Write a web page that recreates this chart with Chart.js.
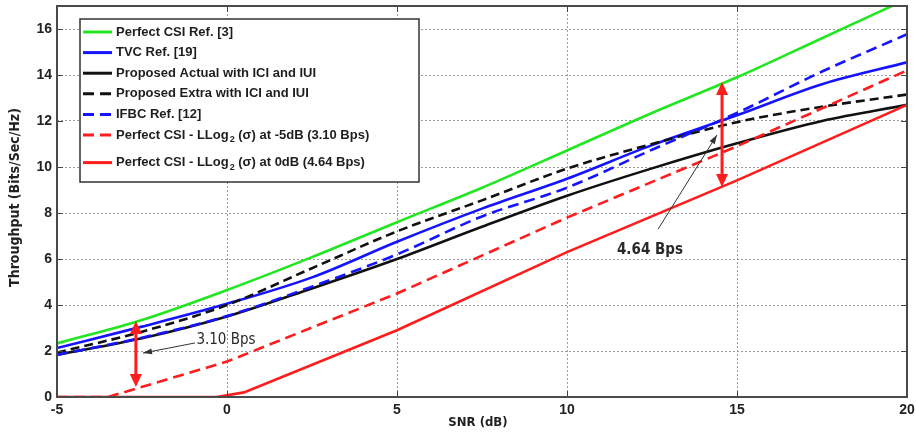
<!DOCTYPE html>
<html lang="en">
<head>
    <meta charset="UTF-8">
    <title>Throughput vs SNR</title>
    <script src="https://cdn.jsdelivr.net/npm/chart.js@4"></script>
    <style>
        body { margin: 0; background: #fff; }
        #wrap { width: 916px; height: 444px; position: relative; }
    </style>
</head>
<body>
    <div id="wrap"><canvas id="chart" width="916" height="444"></canvas></div>

    <script>
        // SNR grid (dB) shared by most curves
        const snr = [-5, -2.5, 0, 2.5, 5, 7.5, 10, 12.5, 15, 17.5, 20];

        // Throughput (Bits/Sec/Hz)
        const perfectCsi     = [2.33, 3.35, 4.65, 6.08, 7.6, 9.1, 10.72, 12.35, 13.9, 15.6, 17.3];
        const tvc            = [2.13, 3.06, 4.05, 5.2, 6.75, 8.19, 9.49, 10.95, 12.25, 13.6, 14.55];
        const proposedActual = [1.83, 2.55, 3.5, 4.72, 6.0, 7.4, 8.75, 9.94, 11.03, 12.0, 12.7];
        const proposedExtra  = [1.93, 2.84, 4.0, 5.6, 7.2, 8.55, 9.93, 11.0, 11.95, 12.62, 13.15];
        const ifbc           = [1.83, 2.58, 3.52, 4.8, 6.2, 7.85, 9.1, 10.75, 12.35, 14.15, 15.77];

        // the two "Perfect CSI - LLog2" curves have their own knees
        const lossM5Snr = [-5, -3.5, 0, 5, 10, 15, 20];
        const lossM5    = [0, 0, 1.54, 4.5, 7.8, 10.9, 14.2];
        const loss0Snr  = [-5, -0.3, 0.5, 5, 10, 15, 20];
        const loss0     = [0, 0, 0.2, 2.9, 6.3, 9.42, 12.7];

        const xTicks = { min: -5, max: 20, step: 5 };
        const yTicks = { min: 0, max: 17, step: 2 };

        // gap markers (data units) and the labels pointing at them
        const gapArrows = [
            { x: -2.68, from: 3.3, to: 0.43 },
            { x: 14.56, from: 13.7, to: 9.13 }
        ];
        const gapNotes = [
            { text: '3.10 Bps', x: -0.03, y: 2.48, tail: [-0.94, 2.35], tip: [-2.47, 1.91], bold: false },
            { text: '4.64 Bps', x: 12.44, y: 6.39, tail: [12.68, 7.3], tip: [14.41, 11.39], bold: true }
        ];

        const GREEN = '#22e622';
        const BLUE = '#1414ff';
        const BLACK = '#111111';
        const RED = '#ff1c1c';

        const pts = (xs, ys) => xs.map((v, i) => ({ x: v, y: ys[i] }));

        const series = [
            { label: 'Perfect CSI Ref. [3]', data: pts(snr, perfectCsi), color: GREEN, dash: [], smooth: true },
            { label: 'TVC Ref. [19]', data: pts(snr, tvc), color: BLUE, dash: [], smooth: true },
            { label: 'Proposed Actual with ICI and IUI', data: pts(snr, proposedActual), color: BLACK, dash: [], smooth: true },
            { label: 'Proposed Extra with ICI and IUI', data: pts(snr, proposedExtra), color: BLACK, dash: [9, 5], smooth: true },
            { label: 'IFBC Ref. [12]', data: pts(snr, ifbc), color: BLUE, dash: [11, 6], smooth: true },
            { label: 'Perfect CSI - LLog₂ (σ) at -5dB (3.10 Bps)', data: pts(lossM5Snr, lossM5), color: RED, dash: [11, 6], smooth: false },
            { label: 'Perfect CSI - LLog₂ (σ) at 0dB (4.64 Bps)', data: pts(loss0Snr, loss0), color: RED, dash: [], smooth: false }
        ];

        const narrow = '"Liberation Sans Narrow", "DejaVu Sans Condensed", "Liberation Sans", sans-serif';
        const sans = '"Liberation Sans", Arial, sans-serif';

        function arrowHead(ctx, x0, y0, x1, y1, len, half) {
            const ang = Math.atan2(y1 - y0, x1 - x0);
            ctx.beginPath();
            ctx.moveTo(x1, y1);
            ctx.lineTo(x1 - len * Math.cos(ang) + half * Math.sin(ang), y1 - len * Math.sin(ang) - half * Math.cos(ang));
            ctx.lineTo(x1 - len * Math.cos(ang) - half * Math.sin(ang), y1 - len * Math.sin(ang) + half * Math.cos(ang));
            ctx.closePath();
            ctx.fill();
        }

        // frame, inward ticks, annotations, legend and axis titles
        const overlay = {
            id: 'overlay',
            afterDraw(chart) {
                const { ctx, chartArea: a, scales: { x, y } } = chart;
                ctx.save();

                // MATLAB style inward ticks
                ctx.strokeStyle = '#444';
                ctx.lineWidth = 1;
                ctx.setLineDash([]);
                ctx.beginPath();
                x.ticks.forEach(t => {
                    const px = Math.round(x.getPixelForValue(t.value)) + 0.5;
                    ctx.moveTo(px, a.bottom); ctx.lineTo(px, a.bottom - 6);
                    ctx.moveTo(px, a.top); ctx.lineTo(px, a.top + 6);
                });
                y.ticks.forEach(t => {
                    const py = Math.round(y.getPixelForValue(t.value)) + 0.5;
                    ctx.moveTo(a.left, py); ctx.lineTo(a.left + 6, py);
                    ctx.moveTo(a.right, py); ctx.lineTo(a.right - 6, py);
                });
                ctx.stroke();

                // frame
                ctx.lineWidth = 2;
                ctx.strokeStyle = '#4a4a4a';
                ctx.strokeRect(a.left, a.top, a.right - a.left, a.bottom - a.top);

                // red double arrows
                ctx.strokeStyle = RED;
                ctx.fillStyle = RED;
                ctx.lineWidth = 3;
                gapArrows.forEach(g => {
                    const px = x.getPixelForValue(g.x);
                    const top = y.getPixelForValue(g.from);
                    const bot = y.getPixelForValue(g.to);
                    ctx.beginPath();
                    ctx.moveTo(px, top + 10);
                    ctx.lineTo(px, bot - 10);
                    ctx.stroke();
                    arrowHead(ctx, px, bot, px, top, 13, 6);
                    arrowHead(ctx, px, top, px, bot, 13, 6);
                });

                // Bps notes with thin pointers
                gapNotes.forEach(n => {
                    const tx = x.getPixelForValue(n.tail[0]), ty = y.getPixelForValue(n.tail[1]);
                    const hx = x.getPixelForValue(n.tip[0]), hy = y.getPixelForValue(n.tip[1]);
                    ctx.strokeStyle = '#333';
                    ctx.fillStyle = '#333';
                    ctx.lineWidth = 1;
                    ctx.beginPath();
                    ctx.moveTo(tx, ty);
                    ctx.lineTo(hx, hy);
                    ctx.stroke();
                    arrowHead(ctx, tx, ty, hx, hy, 9, 3);
                    ctx.font = (n.bold ? 'bold ' : '') + '15px ' + narrow;
                    ctx.textAlign = 'center';
                    ctx.textBaseline = 'middle';
                    ctx.fillStyle = '#2a2a2a';
                    ctx.fillText(n.text, x.getPixelForValue(n.x), y.getPixelForValue(n.y));
                });

                // legend box
                const bx = a.left + 23, by = a.top + 13, bw = 339, bh = 163;
                ctx.fillStyle = '#fff';
                ctx.fillRect(bx, by, bw, bh);
                ctx.strokeStyle = '#333';
                ctx.lineWidth = 1.5;
                ctx.strokeRect(bx, by, bw, bh);

                ctx.textAlign = 'left';
                ctx.textBaseline = 'middle';
                series.forEach((s, i) => {
                    const ry = by + 13 + i * 20.6 + (i === 6 ? 7 : 0);
                    ctx.strokeStyle = s.color;
                    ctx.lineWidth = 3;
                    ctx.setLineDash(s.dash.length ? [11, 6] : []);
                    ctx.beginPath();
                    ctx.moveTo(bx + 3, ry);
                    ctx.lineTo(bx + 32, ry);
                    ctx.stroke();
                    ctx.setLineDash([]);

                    ctx.fillStyle = '#1e1e1e';
                    const parts = s.label.split('₂');
                    let cx = bx + 36;
                    ctx.font = 'bold 13px ' + sans;
                    ctx.fillText(parts[0], cx, ry);
                    if (parts.length > 1) {
                        cx += ctx.measureText(parts[0]).width + 1;
                        ctx.font = 'bold 9px ' + sans;
                        ctx.fillText('2', cx, ry + 5);
                        cx += ctx.measureText('2').width;
                        ctx.font = 'bold 13px ' + sans;
                        ctx.fillText(parts[1], cx, ry);
                    }
                });

                // axis titles
                ctx.fillStyle = '#222';
                ctx.font = 'bold 13px ' + narrow;
                ctx.textAlign = 'center';
                ctx.fillText('SNR (dB)', (a.left + a.right) / 2 - 4, a.bottom + 26);
                ctx.translate(15, (a.top + a.bottom) / 2 - 4);
                ctx.rotate(-Math.PI / 2);
                ctx.font = 'bold 14px ' + narrow;
                ctx.fillText('Throughput (Bits/Sec/Hz)', 0, 0);

                ctx.restore();
            }
        };

        new Chart(document.getElementById('chart'), {
            type: 'line',
            data: {
                datasets: series.map((s, i) => ({
                    label: s.label,
                    data: s.data,
                    borderColor: s.color,
                    backgroundColor: s.color,
                    borderDash: s.dash,
                    borderWidth: 2.6,
                    pointRadius: 0,
                    fill: false,
                    cubicInterpolationMode: s.smooth ? 'monotone' : 'default',
                    tension: 0,
                    order: series.length - i
                }))
            },
            options: {
                responsive: false,
                animation: false,
                events: [],
                layout: { padding: { top: 6, right: 9, left: 0, bottom: 0 } },
                plugins: { legend: { display: false }, tooltip: { enabled: false } },
                scales: {
                    x: {
                        type: 'linear',
                        min: xTicks.min,
                        max: xTicks.max,
                        afterFit: s => { s.height = 47; s.paddingLeft = 0; s.paddingRight = 0; },
                        ticks: {
                            stepSize: xTicks.step,
                            padding: 5,
                            color: '#222',
                            font: { family: sans, size: 14, weight: 'bold' }
                        },
                        grid: { color: '#9a9a9a', lineWidth: 1, drawTicks: false },
                        border: { display: false, dash: [2, 2] }
                    },
                    y: {
                        min: yTicks.min,
                        max: yTicks.max,
                        afterFit: s => { s.width = 57; s.paddingTop = 0; s.paddingBottom = 0; },
                        ticks: {
                            stepSize: yTicks.step,
                            includeBounds: false,
                            padding: 5,
                            color: '#222',
                            font: { family: sans, size: 14, weight: 'bold' }
                        },
                        grid: { color: '#9a9a9a', lineWidth: 1, drawTicks: false },
                        border: { display: false, dash: [2, 2] }
                    }
                }
            },
            plugins: [overlay]
        });
    </script>
</body>
</html>
